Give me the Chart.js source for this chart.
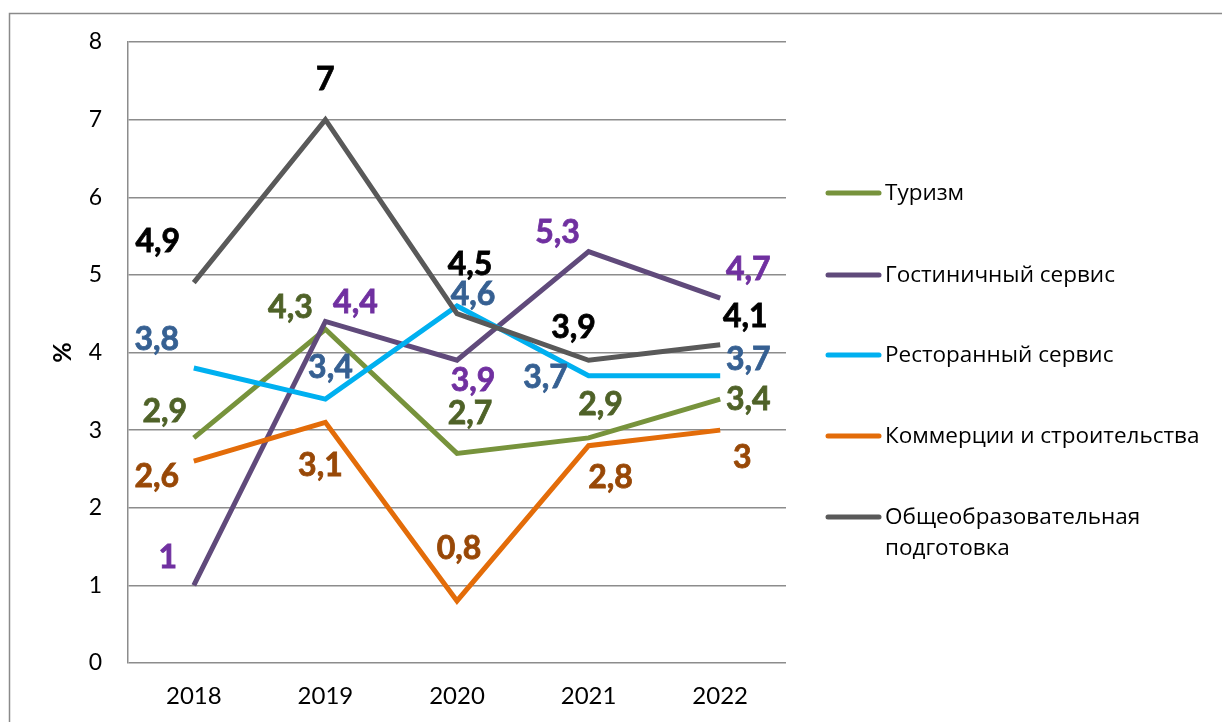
<!DOCTYPE html>
<html>
<head>
<meta charset="utf-8">
<script src="https://cdn.jsdelivr.net/npm/chart.js@4.4.1/dist/chart.umd.min.js"></script>
<style>
  html, body { margin: 0; padding: 0; background: #fff; }
  #wrap { width: 1222px; height: 722px; position: relative; }
</style>
</head>
<body>
<div id="wrap"><canvas id="c" width="1222" height="722"></canvas></div>
<script>
const categories = ['2018', '2019', '2020', '2021', '2022'];
const seriesNames = ['Туризм', 'Гостиничный сервис', 'Ресторанный сервис', 'Коммерции и строительства', 'Общеобразовательная подготовка'];
const tourism = [2.9, 4.3, 2.7, 2.9, 3.4];
const hotel = [1, 4.4, 3.9, 5.3, 4.7];
const restaurant = [3.8, 3.4, 4.6, 3.7, 3.7];
const commerce = [2.6, 3.1, 0.8, 2.8, 3];
const general = [4.9, 7, 4.5, 3.9, 4.1];
const yTicks = [0, 1, 2, 3, 4, 5, 6, 7, 8];

const lineColors = ['#77933C', '#604A7B', '#00B0F0', '#E36C09', '#595959'];
const labelColors = ['#4F6228', '#7030A0', '#366092', '#984807', '#000000'];
// label offsets (px) relative to each point, per series
const labelOffsets = [
  [[-29,-26],[-35,-22],[13,-40],[12,-33],[28,1]],
  [[-26,-28],[30,-19],[16,20],[-31,-19],[28,-28]],
  [[-37,-28],[5,-31],[16,-11],[-43,2],[28,-16]],
  [[-37,16],[-5,43],[2,-52],[22,32],[22,28]],
  [[-36,-41],[0,-40],[13,-49],[-15,-33],[25,-28]]
];
const seriesData = [tourism, hotel, restaurant, commerce, general];

const NUMFONT = 'Lato, "Open Sans", sans-serif';
const TXTFONT = '"Open Sans", "Noto Sans", sans-serif';

const frame = {
  id: 'frame',
  beforeDraw(chart) {
    const ctx = chart.ctx;
    ctx.save();
    ctx.fillStyle = '#fff';
    ctx.fillRect(0, 0, chart.width, chart.height);
    ctx.strokeStyle = '#8a8a8a';
    ctx.lineWidth = 1.5;
    ctx.strokeRect(9.5, 13.5, 1400, 900);
    ctx.restore();
  }
};

const dataLabels = {
  id: 'dataLabels',
  afterDatasetsDraw(chart) {
    const ctx = chart.ctx;
    ctx.save();
    ctx.font = 'bold 32px ' + NUMFONT;
    ctx.textAlign = 'center';
    ctx.textBaseline = 'middle';
    chart.data.datasets.forEach((ds, di) => {
      const meta = chart.getDatasetMeta(di);
      meta.data.forEach((pt, i) => {
        const off = labelOffsets[di][i];
        ctx.fillStyle = labelColors[di];
        const t = String(ds.data[i]).replace('.', ',');
        const x = pt.x + off[0], y = pt.y + off[1];
        ctx.fillText(t, x, y);
        ctx.lineWidth = 0.8;
        ctx.strokeStyle = labelColors[di];
        ctx.strokeText(t, x, y);
      });
    });
    ctx.restore();
  }
};

const legendPlugin = {
  id: 'customLegend',
  afterDraw(chart) {
    const ctx = chart.ctx;
    const rows = [[193], [275], [355], [436], [517, 548]];
    const texts = [['Туризм'], ['Гостиничный сервис'], ['Ресторанный сервис'], ['Коммерции и строительства'], ['Общеобразовательная', 'подготовка']];
    ctx.save();
    ctx.font = '22.5px ' + TXTFONT;
    ctx.textAlign = 'left';
    ctx.textBaseline = 'middle';
    rows.forEach((ys, i) => {
      ctx.strokeStyle = lineColors[i];
      ctx.lineWidth = 5;
      ctx.lineCap = 'round';
      ctx.beginPath();
      ctx.moveTo(828, ys[0]);
      ctx.lineTo(879, ys[0]);
      ctx.stroke();
      ctx.fillStyle = '#000';
      texts[i].forEach((t, k) => ctx.fillText(t, 885, ys[k] + 1));
    });
    ctx.restore();
  }
};

new Chart(document.getElementById('c'), {
  type: 'line',
  data: {
    labels: categories,
    datasets: seriesData.map((d, i) => ({
      label: seriesNames[i],
      data: d,
      borderColor: lineColors[i],
      backgroundColor: lineColors[i],
      borderWidth: 5,
      pointRadius: 0,
      tension: 0,
      fill: false,
      order: 4 - i
    }))
  },
  options: {
    responsive: false,
    animation: false,
    devicePixelRatio: 1,
    layout: { padding: { top: 42, right: 436, bottom: 0, left: 0 } },
    plugins: { legend: { display: false }, tooltip: { enabled: false }, title: { display: false } },
    scales: {
      x: {
        offset: true,
        grid: { display: false, drawTicks: false },
        border: { display: false },
        ticks: { color: '#000', font: { family: NUMFONT, size: 24 }, padding: 19, maxRotation: 0 },
        afterFit(s) { s.height = 59; }
      },
      y: {
        min: 0, max: 8,
        afterBuildTicks(s) { s.ticks = yTicks.map(v => ({ value: v })); },
        grid: { color: '#8c8c8c', lineWidth: 1.5, drawTicks: false },
        border: { display: true, color: '#8c8c8c', width: 1.5 },
        ticks: { color: '#000', font: { family: NUMFONT, size: 23 }, padding: 26 },
        title: { display: true, text: '%', color: '#000', font: { family: NUMFONT, size: 25, weight: 'bold' }, padding: { top: 48, bottom: 0 } },
        afterFit(s) { s.width = 128; }
      }
    }
  },
  plugins: [frame, dataLabels, legendPlugin]
});
</script>
</body>
</html>
